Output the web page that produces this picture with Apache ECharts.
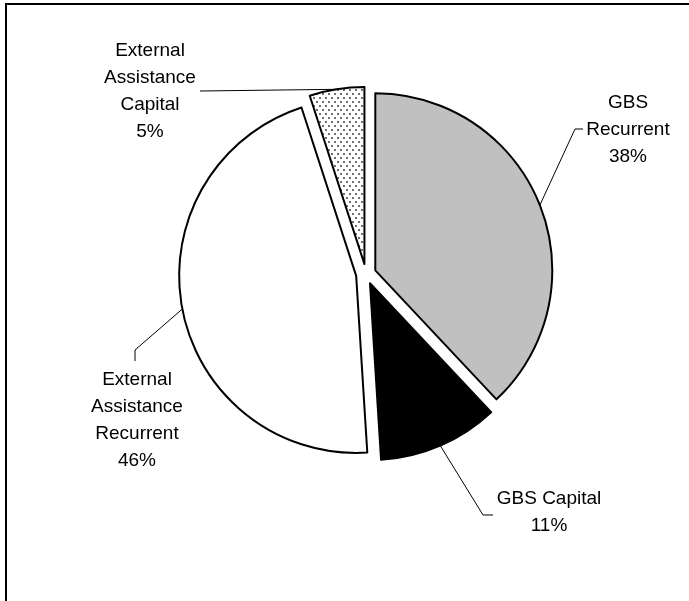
<!DOCTYPE html>
<html>
<head>
<meta charset="utf-8">
<script src="https://cdn.jsdelivr.net/npm/echarts@6/dist/echarts.min.js"></script>
<style>
  html, body { margin: 0; padding: 0; background: #fff; }
  #chart { width: 689px; height: 601px; }
</style>
</head>
<body>
<div id="chart"></div>
<script>
// Budget support shares (percent of total)
const categories = ['GBS\nRecurrent', 'GBS Capital', 'External\nAssistance\nRecurrent', 'External\nAssistance\nCapital'];
const shares = [38, 11, 46, 5];

// Pie geometry: every slice is pulled out from the centre by OFFSET pixels
const CX = 366, CY = 274, R = 177, OFFSET = 10;

// Dotted fill for the small slice
function dotPattern() {
  const c = document.createElement('canvas');
  c.width = 6; c.height = 8;
  const g = c.getContext('2d');
  g.fillStyle = '#fff';
  g.fillRect(0, 0, 6, 8);
  g.fillStyle = '#707070';
  g.fillRect(1, 1, 2, 2);
  g.fillRect(4, 5, 2, 2);
  return c;
}

const fills = ['#c0c0c0', '#000000', '#ffffff', { image: dotPattern(), repeat: 'repeat' }];

// Label block centres and leader-line bends
const labelPlaces = [
  { x: 628, y: 130, bend: [[575, 129], [583, 129]] },
  { x: 549, y: 512, bend: [[483, 515], [493, 515]] },
  { x: 137, y: 420, bend: [[135, 350], [135, 361]] },
  { x: 150, y: 91,  bend: [[200, 91]] }
];

const total = shares.reduce((a, b) => a + b, 0);
function midAngle(i) {
  let before = 0;
  for (let k = 0; k < i; k++) before += shares[k];
  return (before + shares[i] / 2) / total * 2 * Math.PI;
}
function edgePoint(i) {
  const a = midAngle(i), r = R + OFFSET;
  return [CX + r * Math.sin(a), CY - r * Math.cos(a)];
}

const textStyle = {
  fontFamily: 'Liberation Sans, Arial, sans-serif',
  fontSize: 19,
  lineHeight: 27,
  color: '#000'
};

// One pie layer per slice, each shifted outward along its mid-angle;
// the other slices in a layer are left transparent.
const series = categories.map((_, s) => {
  const a = midAngle(s);
  return {
    type: 'pie',
    center: [CX + OFFSET * Math.sin(a), CY - OFFSET * Math.cos(a)],
    radius: [0, R],
    startAngle: 90,
    clockwise: true,
    silent: true,
    emphasis: { disabled: true },
    label: Object.assign({ show: true, position: 'outside', formatter: '{b}\n{c}%', align: 'center' }, textStyle),
    labelLine: { show: true, lineStyle: { color: '#000', width: 1 } },
    labelLayout: function (params) {
      const i = params.dataIndex;
      if (i !== s) return {};
      const p = labelPlaces[i];
      return {
        x: p.x,
        y: p.y,
        align: 'center',
        verticalAlign: 'middle',
        labelLinePoints: [edgePoint(i)].concat(p.bend)
      };
    },
    data: categories.map((name, i) => i === s ? {
      name: name,
      value: shares[i],
      itemStyle: { color: fills[i], borderColor: '#000', borderWidth: 2 }
    } : {
      name: name,
      value: shares[i],
      itemStyle: { color: 'rgba(0,0,0,0)', borderWidth: 0 },
      label: { show: false },
      labelLine: { show: false }
    })
  };
});

const chart = echarts.init(document.getElementById('chart'), null, { renderer: 'canvas' });

chart.setOption({
  animation: false,
  backgroundColor: '#fff',
  graphic: [
    { type: 'polyline', shape: { points: [[6, 601], [6, 4], [689, 4]] },
      style: { stroke: '#000', lineWidth: 2, fill: null }, silent: true }
  ],
  series: series
});
</script>
</body>
</html>
